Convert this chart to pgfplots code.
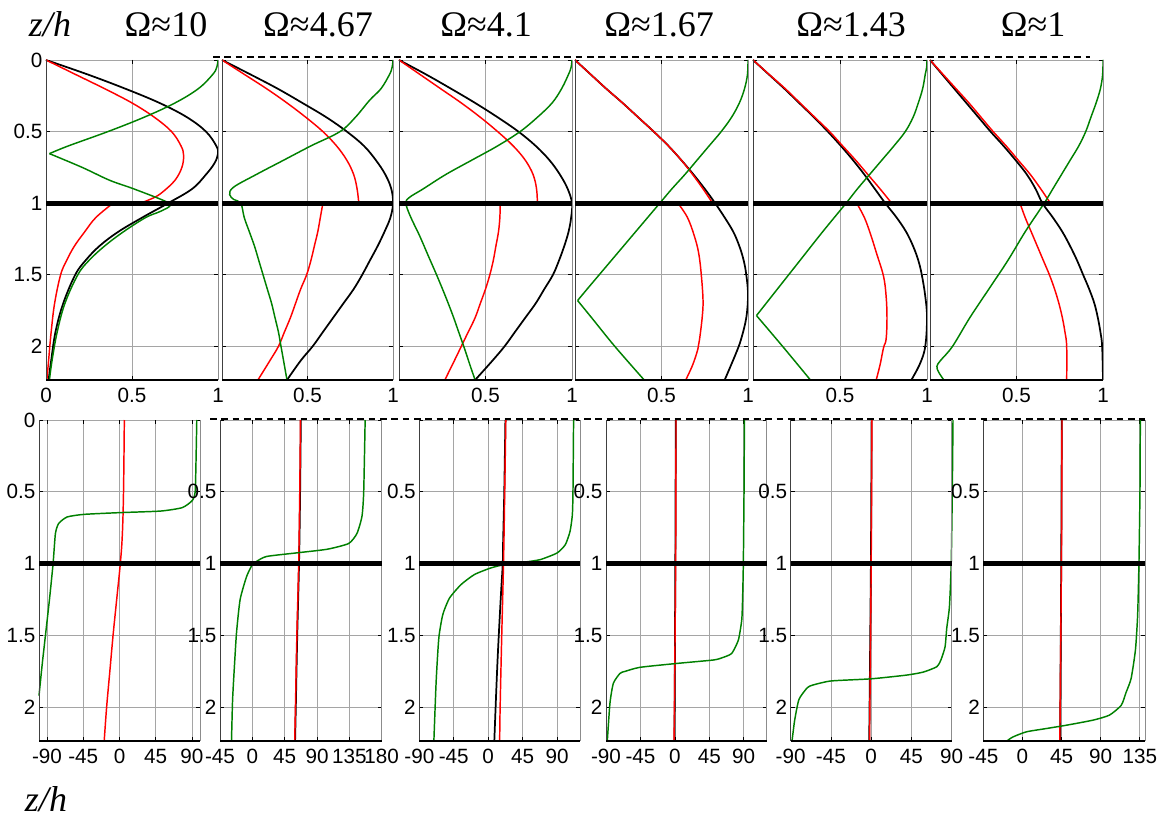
\documentclass[border=0pt]{standalone}
\usepackage{fontspec}
\setmainfont{Liberation Sans}
\newfontfamily\serif{Liberation Serif}
\usepackage{pgfplots}
\pgfplotsset{compat=1.18}
\definecolor{mgreen}{RGB}{0,128,0}
\definecolor{gridc}{RGB}{165,165,165}

\pgfplotsset{
  panel/.style={
    scale only axis, anchor=south west, y dir=reverse, ymin=0, ymax=2.235,
    grid=major, major grid style={gridc, line width=0.5pt},
    axis line style={draw=none},
    tick style={black, line width=0.5pt}, major tick length=3pt,
    tick align=inside,
    ticklabel style={font=\fontsize{15.5}{16}\selectfont, inner sep=1pt},
    xticklabel style={yshift=-5pt},
    yticklabel style={xshift=-1.5pt},
    /pgf/number format/assume math mode=true,
    clip=false,
    ytick={0,0.5,1,1.5,2},
  },
  toprow/.style={panel, height=240pt, xmin=0, xmax=1, xtick={0,0.5,1},
    xticklabels={,0.5,1}, yticklabels={}},
  botrow/.style={panel, height=240.75pt, yticklabels={,0.5,1,1.5,2}},
  bk/.style={black, line width=1.3pt, smooth, tension=0.6},
  rd/.style={red, line width=1.1pt, smooth, tension=0.6},
  gn/.style={mgreen, line width=1.1pt, smooth, tension=0.6},
  gs/.style={mgreen, line width=1.1pt, smooth, tension=0.35},
}
\newcommand\panelframe[2]{%
 \draw[black!75, line width=0.7pt] (axis cs:#1,0) -- (axis cs:#1,2.235);
 \draw[black!45, line width=0.7pt] (axis cs:#2,0) -- (axis cs:#2,2.235);
 \draw[black, line width=2.2pt] (axis cs:#1,2.235) -- (axis cs:#2,2.235);
 \draw[black, line width=3.5pt] (axis cs:#1,1) -- (axis cs:#2,1);
}

\begin{document}
\begin{tikzpicture}
\path[use as bounding box] (0,0) rectangle (871.5pt,615.75pt);

% ---------------- top row ----------------
\begin{axis}[toprow, at={(34.5pt,330.75pt)}, width=129pt,
  xticklabels={0,0.5,1}, yticklabels={0,0.5,1,1.5,2}]
\addplot[bk] coordinates {(0,0)(0.24,0.1)(0.46,0.2)(0.66,0.3)(0.82,0.4)(0.93,0.5)(0.99,0.6)(1.0,0.654)(0.98,0.72)(0.93,0.8)(0.85,0.9)(0.71,1.0)(0.56,1.1)(0.42,1.2)(0.31,1.3)(0.23,1.4)(0.17,1.5)(0.10,1.7)(0.055,1.9)(0.03,2.1)(0.015,2.235)};
\addplot[rd] coordinates {(0,0)(0.17,0.1)(0.34,0.2)(0.50,0.3)(0.63,0.4)(0.73,0.5)(0.785,0.6)(0.80,0.666)(0.79,0.75)(0.75,0.84)(0.68,0.92)(0.63,0.96)(0.55,1.0)};
\addplot[rd] coordinates {(0.39,1.0)(0.29,1.1)(0.225,1.2)(0.165,1.3)(0.12,1.4)(0.085,1.5)(0.05,1.7)(0.03,1.9)(0.015,2.1)(0.005,2.235)};
\addplot[gn] coordinates {(1,0)(0.993,0.05)(0.97,0.1)(0.886,0.2)(0.75,0.3)(0.57,0.4)(0.36,0.5)(0.13,0.6)(0.02,0.654)};
\addplot[gn] coordinates {(0.02,0.654)(0.21,0.75)(0.37,0.84)(0.51,0.9)(0.70,0.99)(0.72,1.02)(0.66,1.06)(0.58,1.1)(0.45,1.2)(0.34,1.3)(0.25,1.4)(0.185,1.5)(0.11,1.7)(0.065,1.9)(0.035,2.1)(0.02,2.235)};
\panelframe{0}{1}
\end{axis}

\begin{axis}[toprow, at={(166.5pt,330.75pt)}, width=128.25pt]
\addplot[bk] coordinates {(0,0)(0.165,0.1)(0.325,0.2)(0.47,0.3)(0.61,0.4)(0.73,0.5)(0.83,0.6)(0.90,0.7)(0.955,0.8)(0.99,0.9)(1.0,1.0)(0.985,1.1)(0.95,1.2)(0.91,1.3)(0.865,1.4)(0.82,1.5)(0.77,1.6)(0.71,1.7)(0.65,1.8)(0.59,1.9)(0.53,2.0)(0.46,2.1)(0.38,2.235)};
\addplot[rd] coordinates {(0,0)(0.13,0.1)(0.26,0.2)(0.38,0.3)(0.49,0.4)(0.59,0.5)(0.67,0.6)(0.73,0.7)(0.77,0.8)(0.79,0.9)(0.80,1.0)};
\addplot[rd] coordinates {(0.59,1.0)(0.575,1.1)(0.56,1.2)(0.54,1.3)(0.52,1.4)(0.495,1.5)(0.46,1.6)(0.43,1.7)(0.40,1.8)(0.365,1.9)(0.33,2.0)(0.28,2.1)(0.21,2.235)};
\addplot[gn] coordinates {(1,0)(0.995,0.05)(0.98,0.1)(0.93,0.2)(0.864,0.28)(0.78,0.4)(0.69,0.5)(0.52,0.6)(0.36,0.7)(0.20,0.8)(0.068,0.888)(0.045,0.94)(0.07,0.975)(0.11,1.0)(0.13,1.1)(0.16,1.2)(0.19,1.3)(0.215,1.4)(0.24,1.5)(0.265,1.6)(0.29,1.7)(0.31,1.8)(0.33,1.9)(0.345,2.0)(0.36,2.1)(0.38,2.235)};
\panelframe{0}{1}
\end{axis}

\begin{axis}[toprow, at={(299.25pt,330.75pt)}, width=129.75pt]
\addplot[bk] coordinates {(0,0)(0.155,0.1)(0.30,0.2)(0.44,0.3)(0.57,0.4)(0.69,0.5)(0.79,0.6)(0.87,0.7)(0.93,0.8)(0.975,0.9)(1.0,1.0)(0.995,1.1)(0.98,1.2)(0.955,1.3)(0.925,1.4)(0.89,1.5)(0.84,1.6)(0.79,1.7)(0.73,1.8)(0.67,1.9)(0.61,2.0)(0.54,2.1)(0.44,2.235)};
\addplot[rd] coordinates {(0,0)(0.12,0.1)(0.24,0.2)(0.36,0.3)(0.47,0.4)(0.57,0.5)(0.66,0.6)(0.73,0.7)(0.775,0.8)(0.795,0.9)(0.80,1.0)};
\addplot[rd] coordinates {(0.585,1.0)(0.583,1.1)(0.575,1.2)(0.56,1.3)(0.545,1.4)(0.525,1.5)(0.50,1.6)(0.47,1.7)(0.44,1.8)(0.40,1.9)(0.36,2.0)(0.32,2.1)(0.265,2.235)};
\addplot[gn] coordinates {(1,0)(0.995,0.05)(0.98,0.1)(0.94,0.2)(0.885,0.3)(0.80,0.4)(0.70,0.5)(0.57,0.6)(0.42,0.7)(0.27,0.8)(0.14,0.9)(0.06,0.96)(0.04,1.0)(0.065,1.09)(0.12,1.23)(0.17,1.37)(0.217,1.5)(0.265,1.64)(0.31,1.78)(0.345,1.9)(0.38,2.02)(0.41,2.13)(0.44,2.235)};
\panelframe{0}{1}
\end{axis}

\begin{axis}[toprow, at={(431.25pt,330.75pt)}, width=129.75pt]
\addplot[bk] coordinates {(0,0)(0.09,0.1)(0.18,0.2)(0.275,0.3)(0.365,0.4)(0.455,0.5)(0.54,0.6)(0.615,0.7)(0.685,0.8)(0.75,0.9)(0.81,1.0)(0.865,1.1)(0.915,1.2)(0.95,1.3)(0.975,1.4)(0.99,1.5)(1.0,1.64)(0.99,1.8)(0.96,1.95)(0.93,2.05)(0.865,2.235)};
\addplot[rd] coordinates {(0,0)(0.09,0.1)(0.18,0.2)(0.275,0.3)(0.365,0.4)(0.455,0.5)(0.54,0.6)(0.615,0.7)(0.68,0.8)(0.74,0.9)(0.79,0.99)};
\addplot[rd] coordinates {(0.595,1.0)(0.65,1.1)(0.69,1.23)(0.715,1.35)(0.73,1.5)(0.74,1.68)(0.735,1.8)(0.72,1.95)(0.71,2.02)(0.68,2.13)(0.64,2.235)};
\addplot[gn] coordinates {(1,0)(0.997,0.1)(0.98,0.2)(0.95,0.3)(0.905,0.4)(0.845,0.5)(0.775,0.6)(0.705,0.7)(0.635,0.8)(0.56,0.9)(0.49,1.0)(0.35,1.2)(0.21,1.4)(0.07,1.6)(0.015,1.68)};
\addplot[gn] coordinates {(0.015,1.68)(0.096,1.8)(0.23,2.0)(0.40,2.235)};
\panelframe{0}{1}
\end{axis}

\begin{axis}[toprow, at={(564.75pt,330.75pt)}, width=130.5pt]
\addplot[bk] coordinates {(0,0)(0.09,0.1)(0.18,0.2)(0.265,0.3)(0.35,0.4)(0.43,0.5)(0.505,0.6)(0.575,0.7)(0.64,0.8)(0.70,0.9)(0.76,1.0)(0.825,1.1)(0.88,1.2)(0.92,1.3)(0.95,1.4)(0.97,1.5)(0.99,1.65)(1.0,1.8)(0.99,2.0)(0.96,2.12)(0.91,2.235)};
\addplot[rd] coordinates {(0,0)(0.092,0.1)(0.185,0.2)(0.27,0.3)(0.355,0.4)(0.44,0.5)(0.515,0.6)(0.59,0.7)(0.66,0.8)(0.73,0.9)(0.79,0.99)};
\addplot[rd] coordinates {(0.596,1.0)(0.64,1.1)(0.675,1.215)(0.71,1.35)(0.75,1.51)(0.765,1.65)(0.77,1.8)(0.765,1.95)(0.75,2.01)(0.73,2.13)(0.708,2.235)};
\addplot[gn] coordinates {(1,0)(0.998,0.05)(0.99,0.1)(0.975,0.2)(0.95,0.3)(0.92,0.4)(0.875,0.5)(0.81,0.6)(0.74,0.7)(0.67,0.8)(0.60,0.9)(0.535,1.0)(0.40,1.2)(0.27,1.4)(0.14,1.6)(0.02,1.785)};
\addplot[gn] coordinates {(0.02,1.785)(0.17,2.0)(0.33,2.235)};
\panelframe{0}{1}
\end{axis}

\begin{axis}[toprow, at={(697.5pt,330.75pt)}, width=129.75pt]
\addplot[bk] coordinates {(0,0)(0.07,0.1)(0.14,0.2)(0.21,0.3)(0.28,0.4)(0.35,0.5)(0.425,0.6)(0.495,0.7)(0.56,0.8)(0.61,0.9)(0.65,1.0)(0.71,1.1)(0.765,1.2)(0.81,1.3)(0.85,1.4)(0.885,1.5)(0.92,1.6)(0.95,1.7)(0.97,1.8)(0.985,1.9)(0.995,2.0)(1.0,2.235)};
\addplot[rd] coordinates {(0,0)(0.075,0.1)(0.15,0.2)(0.225,0.3)(0.295,0.4)(0.365,0.5)(0.44,0.6)(0.51,0.7)(0.58,0.8)(0.64,0.9)(0.69,0.99)};
\addplot[rd] coordinates {(0.52,1.0)(0.55,1.1)(0.585,1.2)(0.62,1.3)(0.655,1.4)(0.69,1.5)(0.72,1.6)(0.745,1.7)(0.765,1.8)(0.78,1.9)(0.79,2.0)(0.79,2.235)};
\addplot[gn] coordinates {(1,0)(0.998,0.1)(0.985,0.2)(0.96,0.3)(0.93,0.4)(0.90,0.5)(0.86,0.6)(0.81,0.7)(0.76,0.8)(0.71,0.9)(0.66,1.0)(0.55,1.2)(0.45,1.4)(0.34,1.6)(0.23,1.8)(0.13,2.0)(0.06,2.1)(0.04,2.14)(0.05,2.18)(0.08,2.235)};
\panelframe{0}{1}
\end{axis}

% ---------------- bottom row ----------------
\begin{axis}[botrow, at={(29.25pt,60pt)}, width=120.75pt, xmin=-100, xmax=100,
  xtick={-90,-45,0,45,90}, yticklabels={0,0.5,1,1.5,2}]
\addplot[rd] coordinates {(6,0)(5,0.5)(3.5,0.8)(1,1)(-3.5,1.25)(-8,1.5)(-12,1.75)(-16,2)(-19,2.235)};
\addplot[gs] coordinates {(96,0)(95,0.3)(94,0.5)(90.5,0.56)(78,0.61)(51,0.634)(0,0.645)(-44,0.657)(-65,0.675)(-75.5,0.72)(-79.6,0.79)(-82.5,1)(-87,1.25)(-92,1.5)(-96,1.7)(-100,1.92)};
\panelframe{-100}{100}
\end{axis}

\begin{axis}[botrow, at={(165pt,60pt)}, width=121.25pt, xmin=-45, xmax=180,
  xtick={-45,0,45,90,135,180}]
\addplot[bk] coordinates {(67.5,0)(66.5,0.5)(65,1)(62.5,1.5)(60.5,2)(59.5,2.235)};
\addplot[rd] coordinates {(67,0)(66,0.5)(64.5,1)(62,1.5)(60,2)(59,2.235)};
\addplot[gs] coordinates {(157,0)(155,0.5)(152.6,0.67)(145.6,0.79)(134,0.86)(104,0.9)(62,0.925)(20,0.95)(6,0.984)(0,1.007)(-8,1.09)(-17,1.25)(-22,1.48)(-25,1.72)(-27.5,1.95)(-29,2.235)};
\panelframe{-45}{180}
\end{axis}

\begin{axis}[botrow, at={(314.5pt,60pt)}, width=120.5pt, xmin=-90, xmax=120,
  xtick={-90,-45,0,45,90}]
\addplot[bk] coordinates {(22.5,0)(21,0.5)(19.5,0.85)(19,1)(16.4,1.24)(12,1.7)(8,2.235)};
\addplot[rd] coordinates {(23,0)(21.6,0.5)(20,1)(17.7,1.5)(15.6,2)(15,2.235)};
\addplot[gs] coordinates {(111.6,0)(110.8,0.5)(110,0.66)(107,0.775)(100.8,0.868)(90,0.926)(68,0.972)(46.7,0.99)(20.8,1.007)(3.5,1.03)(-18,1.076)(-35.5,1.146)(-50.6,1.24)(-59.3,1.354)(-64.5,1.516)(-68,1.817)(-71,2.235)};
\panelframe{-90}{120}
\end{axis}

\begin{axis}[botrow, at={(454.5pt,60pt)}, width=120.5pt, xmin=-90, xmax=120,
  xtick={-90,-45,0,45,90}]
\addplot[bk] coordinates {(1.2,0)(0.6,1)(-0.5,2.235)};
\addplot[rd] coordinates {(1.5,0)(1,1)(-1,2.235)};
\addplot[gs] coordinates {(90.9,0)(90.4,0.5)(89.5,1)(88.5,1.25)(87.4,1.393)(83,1.532)(74.3,1.625)(62,1.655)(50.3,1.671)(2.4,1.695)(-45.6,1.722)(-65,1.75)(-71.7,1.764)(-80.4,1.833)(-84.8,1.97)(-88.3,2.235)};
\panelframe{-90}{120}
\end{axis}

\begin{axis}[botrow, at={(593pt,60pt)}, width=120.75pt, xmin=-90, xmax=90,
  xtick={-90,-45,0,45,90}]
\addplot[bk] coordinates {(0.5,0)(-0.3,1)(-2.2,2.235)};
\addplot[rd] coordinates {(0.8,0)(0,1)(-1.8,2.235)};
\addplot[gs] coordinates {(91.5,0)(90.7,0.5)(89.5,1)(87.5,1.3)(84.5,1.45)(82.6,1.58)(78,1.67)(73.3,1.718)(58.3,1.755)(39.7,1.776)(0,1.802)(-45,1.817)(-65,1.845)(-71.4,1.864)(-80.7,1.945)(-85.5,2.089)(-88.5,2.235)};
\panelframe{-90}{90}
\end{axis}

\begin{axis}[botrow, at={(737.5pt,60pt)}, width=121.25pt, xmin=-45, xmax=141,
  xtick={-45,0,45,90,135}]
\addplot[bk] coordinates {(45.2,0)(44.6,1)(43.3,2.235)};
\addplot[rd] coordinates {(45.5,0)(44.8,1)(43,2.235)};
\addplot[gs] coordinates {(135.6,0)(135.2,0.5)(134,1)(132.5,1.36)(130,1.6)(125,1.8)(119,1.9)(113.7,1.986)(100,2.055)(81,2.09)(50.6,2.125)(27.6,2.148)(4.6,2.171)(-10.7,2.206)(-18,2.235)};
\panelframe{-45}{141}
\end{axis}

% dashed top lines
\draw[black, line width=1.1pt, dash pattern=on 5pt off 3.5pt] (159.75pt,573pt) -- (817.5pt,573pt);
\draw[black, line width=1.1pt, dash pattern=on 5pt off 3.5pt] (157.5pt,301.5pt) -- (858.75pt,301.5pt);

% titles
\begin{scope}[every node/.style={font=\serif\fontsize{27}{30}\selectfont, anchor=base, inner sep=0pt}]
\node at (37.5pt,588pt) {\itshape z/h};
\node at (124.5pt,588pt) {Ω≈10};
\node at (238.5pt,588pt) {Ω≈4.67};
\node at (364.5pt,588pt) {Ω≈4.1};
\node at (494.25pt,588pt) {Ω≈1.67};
\node at (638.25pt,588pt) {Ω≈1.43};
\node at (774.75pt,588pt) {Ω≈1};
\node at (34.5pt,7pt) {\itshape z/h};
\end{scope}
\end{tikzpicture}
\end{document}
